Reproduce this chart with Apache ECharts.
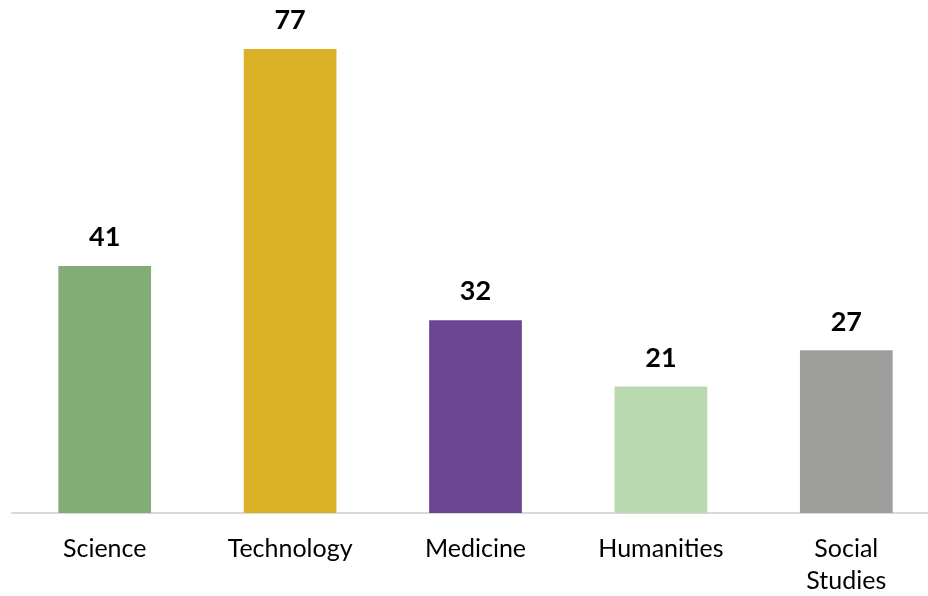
<!DOCTYPE html>
<html>
<head>
<meta charset="utf-8">
<script src="https://cdn.jsdelivr.net/npm/echarts@6/dist/echarts.min.js"></script>
<style>
  html, body { margin: 0; padding: 0; background: #fff; }
  #main { width: 928px; height: 596px; }
</style>
</head>
<body>
<div id="main"></div>
<script>
// fields and counts
const categories = ['Science', 'Technology', 'Medicine', 'Humanities', 'Social\nStudies'];
const counts = [41, 77, 32, 21, 27];
const barColors = ['#83ad77', '#d9b026', '#6b4592', '#b9d9b1', '#9e9e9c'];

const chart = echarts.init(document.getElementById('main'), null, { renderer: 'canvas' });

const option = {
  animation: false,
  grid: {
    left: 12,
    top: 31,
    width: 927,
    height: 482,
    containLabel: false,
    outerBoundsMode: 'none'
  },
  xAxis: {
    type: 'category',
    data: categories,
    axisLine: { lineStyle: { color: '#d9d9d9', width: 2 } },
    axisTick: { show: false },
    axisLabel: {
      color: '#000',
      fontFamily: 'Lato',
      fontSize: 25,
      lineHeight: 32,
      margin: 20
    }
  },
  yAxis: {
    type: 'value',
    min: 0,
    max: 80,
    show: false,
    splitLine: { show: false }
  },
  series: [
    {
      type: 'bar',
      barWidth: '50%',
      data: counts.map((v, i) => ({ value: v, itemStyle: { color: barColors[i] } })),
      label: {
        show: true,
        position: 'top',
        distance: 15,
        color: '#000',
        fontFamily: 'Lato',
        fontWeight: 'bold',
        fontSize: 27
      }
    }
  ]
};

chart.setOption(option);
</script>
</body>
</html>
